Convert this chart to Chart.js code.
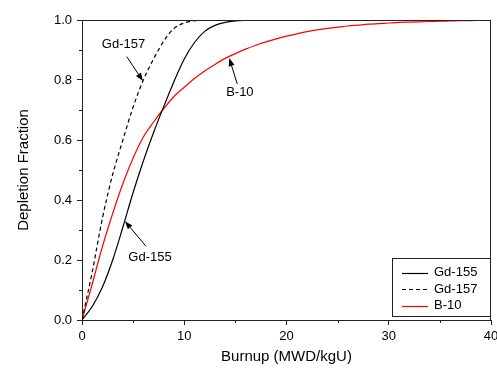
<!DOCTYPE html>
<html>
<head>
<meta charset="utf-8">
<script src="https://cdn.jsdelivr.net/npm/chart.js@4.4.0/dist/chart.umd.min.js"></script>
<style>
  html, body { margin: 0; padding: 0; background: #fff; }
  #wrap { width: 497px; height: 370px; }
</style>
</head>
<body>
<div id="wrap"><canvas id="depletion_chart" width="497" height="370"></canvas></div>
<script>
// burnup steps (MWD/kgU)
var burnup = [0, 1, 2, 3, 4, 5, 6, 7, 8, 9, 10, 11, 12, 13, 14, 15, 16, 17, 18, 19, 20,
              21, 22, 23, 24, 25, 26, 27, 28, 29, 30, 31, 32, 33, 34, 35, 36, 37, 38, 39, 40];

// depletion fraction
var gd155 = [0, 0.045, 0.11, 0.20, 0.31, 0.425, 0.53, 0.625, 0.712, 0.795, 0.87, 0.925, 0.962, 0.982, 0.992, 0.997, 0.999, 1,
             1, 1, 1, 1, 1, 1, 1, 1, 1, 1, 1, 1, 1, 1, 1, 1, 1, 1, 1, 1, 1, 1, 1];
var gd157 = [0, 0.16, 0.34, 0.485, 0.60, 0.71, 0.80, 0.87, 0.93, 0.972, 0.99, 0.998, 1, 1, 1, 1, 1, 1,
             1, 1, 1, 1, 1, 1, 1, 1, 1, 1, 1, 1, 1, 1, 1, 1, 1, 1, 1, 1, 1, 1, 1];
var b10 = [0, 0.12, 0.245, 0.355, 0.455, 0.54, 0.61, 0.66, 0.705, 0.745, 0.776, 0.805, 0.83, 0.852, 0.872, 0.888,
           0.903, 0.916, 0.927, 0.937, 0.946, 0.954, 0.961, 0.967, 0.972, 0.976, 0.98, 0.983, 0.986, 0.988, 0.99,
           0.992, 0.993, 0.994, 0.995, 0.996, 0.997, 0.998, 0.998, 0.999, 0.999];

var seriesNames = ['Gd-155', 'Gd-157', 'B-10'];
var xMinorTicks = [5, 15, 25, 35];
var yMinorTicks = [0.1, 0.3, 0.5, 0.7, 0.9];

// callouts: text centre and arrow tail/tip, in data units
var callouts = [
    {text: 'Gd-157', tx: 4.06, ty: 0.917, x0: 4.37, y0: 0.878, x1: 5.96, y1: 0.797},
    {text: 'B-10', tx: 15.44, ty: 0.757, x0: 15.18, y0: 0.787, x1: 14.4, y1: 0.873},
    {text: 'Gd-155', tx: 6.65, ty: 0.208, x0: 6.26, y0: 0.246, x1: 4.2, y1: 0.329}
];

var FONT = '"Liberation Sans", Arial, sans-serif';

function toPoints(ys) {
    return burnup.map(function (x, i) { return {x: x, y: ys[i]}; });
}

var extras = {
    id: 'extras',
    afterDraw: function (chart) {
        var ctx = chart.ctx;
        var a = chart.chartArea;
        var xs = chart.scales.x, ys = chart.scales.y;
        ctx.save();

        // frame top + right
        ctx.strokeStyle = '#222';
        ctx.lineWidth = 1;
        ctx.beginPath();
        ctx.moveTo(a.left, a.top + 0.5);
        ctx.lineTo(a.right - 0.5, a.top + 0.5);
        ctx.lineTo(a.right - 0.5, a.bottom);
        ctx.stroke();

        // minor ticks
        ctx.beginPath();
        xMinorTicks.forEach(function (v) {
            var px = Math.round(xs.getPixelForValue(v)) + 0.5;
            ctx.moveTo(px, a.bottom);
            ctx.lineTo(px, a.bottom + 3);
        });
        yMinorTicks.forEach(function (v) {
            var py = Math.round(ys.getPixelForValue(v)) + 0.5;
            ctx.moveTo(a.left - 3, py);
            ctx.lineTo(a.left, py);
        });
        ctx.stroke();

        // callouts
        ctx.fillStyle = '#000';
        ctx.strokeStyle = '#000';
        ctx.font = '13px ' + FONT;
        ctx.textAlign = 'center';
        ctx.textBaseline = 'middle';
        callouts.forEach(function (c) {
            ctx.fillText(c.text, xs.getPixelForValue(c.tx), ys.getPixelForValue(c.ty));
            var x0 = xs.getPixelForValue(c.x0), y0 = ys.getPixelForValue(c.y0);
            var x1 = xs.getPixelForValue(c.x1), y1 = ys.getPixelForValue(c.y1);
            var ang = Math.atan2(y1 - y0, x1 - x0);
            var len = 8, half = 3;
            var bx = x1 - len * Math.cos(ang), by = y1 - len * Math.sin(ang);
            ctx.lineWidth = 1;
            ctx.beginPath();
            ctx.moveTo(x0, y0);
            ctx.lineTo(bx, by);
            ctx.stroke();
            ctx.beginPath();
            ctx.moveTo(x1, y1);
            ctx.lineTo(bx + half * Math.sin(ang), by - half * Math.cos(ang));
            ctx.lineTo(bx - half * Math.sin(ang), by + half * Math.cos(ang));
            ctx.closePath();
            ctx.fill();
        });

        // legend box in lower right corner
        var lx = a.right - 99, ly = a.bottom - 62;
        ctx.lineWidth = 1;
        ctx.strokeStyle = '#222';
        ctx.strokeRect(lx + 0.5, ly + 0.5, 98, 58);
        ctx.textAlign = 'left';
        chart.data.datasets.forEach(function (ds, i) {
            var yy = ly + 14.5 + i * 16.5;
            ctx.save();
            ctx.strokeStyle = ds.borderColor;
            ctx.lineWidth = ds.borderWidth;
            ctx.setLineDash(ds.borderDash || []);
            ctx.beginPath();
            ctx.moveTo(lx + 10, Math.round(yy) + 0.5);
            ctx.lineTo(lx + 36, Math.round(yy) + 0.5);
            ctx.stroke();
            ctx.restore();
            ctx.fillStyle = '#000';
            ctx.fillText(ds.label, lx + 42, yy);
        });
        ctx.restore();
    }
};

var ctx = document.getElementById('depletion_chart').getContext('2d');
var chart = new Chart(ctx, {
    type: 'line',
    data: {
        datasets: [{
            label: seriesNames[0],
            data: toPoints(gd155),
            borderColor: '#000000',
            borderWidth: 1.2
        }, {
            label: seriesNames[1],
            data: toPoints(gd157),
            borderColor: '#000000',
            borderWidth: 1.2,
            borderDash: [4, 3]
        }, {
            label: seriesNames[2],
            data: toPoints(b10),
            borderColor: '#ff0000',
            borderWidth: 1.2
        }]
    },
    options: {
        responsive: false,
        animation: false,
        devicePixelRatio: 1,
        layout: {padding: {top: 20, right: 6, left: 0, bottom: 0}},
        elements: {
            point: {radius: 0},
            line: {cubicInterpolationMode: 'monotone', fill: false}
        },
        plugins: {
            legend: {display: false},
            tooltip: {enabled: false}
        },
        scales: {
            x: {
                type: 'linear',
                min: 0,
                max: 40,
                afterFit: function (scale) {
                    scale.height = 50;
                    // let the "40" label run off the edge like the original
                    scale.paddingLeft = 0;
                    scale.paddingRight = 0;
                },
                ticks: {stepSize: 10, color: '#000', padding: 4, font: {family: FONT, size: 13}},
                grid: {drawOnChartArea: false, drawTicks: true, tickLength: 5, color: '#222'},
                border: {color: '#222', width: 1},
                title: {display: true, text: 'Burnup (MWD/kgU)', color: '#000',
                        font: {family: FONT, size: 15}, padding: {top: 0, bottom: 4}}
            },
            y: {
                type: 'linear',
                min: 0,
                max: 1,
                afterFit: function (scale) { scale.width = 82; },
                ticks: {stepSize: 0.2, color: '#000', padding: 5, font: {family: FONT, size: 13},
                        callback: function (v) { return v.toFixed(1); }},
                grid: {drawOnChartArea: false, drawTicks: true, tickLength: 5, color: '#222'},
                border: {color: '#222', width: 1},
                title: {display: true, text: 'Depletion Fraction', color: '#000',
                        font: {family: FONT, size: 15}, padding: {top: 15, bottom: 0}}
            }
        }
    },
    plugins: [extras]
});
</script>
</body>
</html>
